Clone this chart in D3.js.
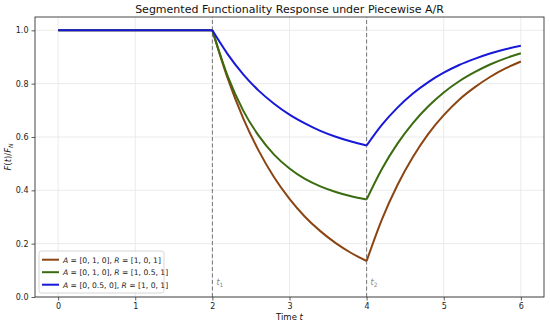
<!DOCTYPE html>
<html><head><meta charset="utf-8">
<script src="https://cdn.jsdelivr.net/npm/d3@7"></script>
<style>body{margin:0;background:#fff}svg{display:block;font-family:"DejaVu Sans",sans-serif}</style>
</head><body><svg id="c" width="550" height="324"></svg>
<script>
const times = [0, 0.5, 1, 1.5, 2, 2.2, 2.4, 2.6, 2.8, 3, 3.2, 3.4, 3.6, 3.8, 4, 4.2, 4.4, 4.6, 4.8, 5, 5.2, 5.4, 5.6, 5.8, 6];
const seriesNames = ["A = [0, 1, 0], R = [1, 0, 1]", "A = [0, 1, 0], R = [1, 0.5, 1]", "A = [0, 0.5, 0], R = [1, 0, 1]"];
const brownVals = [1, 1, 1, 1, 1, 0.819, 0.670, 0.549, 0.449, 0.368, 0.301, 0.247, 0.202, 0.165, 0.135, 0.292, 0.420, 0.525, 0.612, 0.682, 0.740, 0.786, 0.825, 0.857, 0.883];
const greenVals = [1, 1, 1, 1, 1, 0.827, 0.699, 0.605, 0.534, 0.482, 0.443, 0.415, 0.394, 0.378, 0.366, 0.481, 0.575, 0.652, 0.715, 0.767, 0.809, 0.843, 0.872, 0.895, 0.914];
const blueVals = [1, 1, 1, 1, 1, 0.910, 0.835, 0.774, 0.725, 0.684, 0.651, 0.623, 0.601, 0.583, 0.568, 0.646, 0.710, 0.763, 0.806, 0.841, 0.870, 0.893, 0.913, 0.929, 0.942];
const breakpoints = [2, 4];
const breakLabels = ["t", "t"];
const xTicks = [0, 1, 2, 3, 4, 5, 6];
const yTicks = [0, 0.2, 0.4, 0.6, 0.8, 1.0];
const colors = ["#8b4513", "#3b6b0f", "#1818d8"];

const svg = d3.select("#c");
const m = {l: 35, r: 6, t: 17, b: 27};
const W = 550, H = 324;
const x = d3.scaleLinear().domain([-0.3, 6.3]).range([m.l, W - m.r]);
const y = d3.scaleLinear().domain([0, 1.05]).range([H - m.b, m.t]);

// grid
const g = svg.append("g");
g.selectAll(".gx").data(xTicks).enter().append("line")
  .attr("x1", d => x(d)).attr("x2", d => x(d)).attr("y1", y(0)).attr("y2", y(1.05))
  .attr("stroke", "#e6e6e6").attr("stroke-width", 0.8);
g.selectAll(".gy").data(yTicks).enter().append("line")
  .attr("y1", d => y(d)).attr("y2", d => y(d)).attr("x1", x(-0.3)).attr("x2", x(6.3))
  .attr("stroke", "#e6e6e6").attr("stroke-width", 0.8);

// dashed breakpoints
breakpoints.forEach((b, i) => {
  svg.append("line").attr("x1", x(b)).attr("x2", x(b)).attr("y1", y(0)).attr("y2", y(1.05))
    .attr("stroke", "#777").attr("stroke-width", 1).attr("stroke-dasharray", "4,2.5");
  const t = svg.append("text").attr("x", x(b) + 4).attr("y", y(0) - 12)
    .attr("font-size", 8).attr("fill", "#888").attr("font-style", "italic").text(breakLabels[i]);
  t.append("tspan").attr("font-size", 6).attr("font-style", "normal").attr("dy", 2).text(i + 1);
});

// lines, drawn per segment
const allVals = [brownVals, greenVals, blueVals];
const line = d3.line().x(d => x(d[0])).y(d => y(d[1])).curve(d3.curveMonotoneX);
allVals.forEach((vals, si) => {
  const pts = times.map((t, i) => [t, vals[i]]);
  const segs = [pts.filter(p => p[0] <= 2), pts.filter(p => p[0] >= 2 && p[0] <= 4), pts.filter(p => p[0] >= 4)];
  segs.forEach(s => {
    svg.append("path").attr("d", line(s)).attr("fill", "none")
      .attr("stroke", colors[si]).attr("stroke-width", 2).attr("stroke-linejoin", "round");
  });
});

// axes
const xAxis = d3.axisBottom(x).tickValues(xTicks).tickFormat(d3.format("d")).tickSize(3.5).tickPadding(3);
const yAxis = d3.axisLeft(y).tickValues(yTicks).tickFormat(d3.format(".1f")).tickSize(3.5).tickPadding(3);
const gx = svg.append("g").attr("transform", `translate(0,${H - m.b})`).call(xAxis);
const gy = svg.append("g").attr("transform", `translate(${m.l},0)`).call(yAxis);
[gx, gy].forEach(a => {
  a.select(".domain").remove();
  a.selectAll("text").attr("font-size", 8).attr("fill", "#222").attr("font-family", "DejaVu Sans");
  a.selectAll("line").attr("stroke", "#333").attr("stroke-width", 0.8);
});
// frame
svg.append("rect").attr("x", m.l).attr("y", m.t).attr("width", W - m.l - m.r).attr("height", H - m.t - m.b)
  .attr("fill", "none").attr("stroke", "#333").attr("stroke-width", 0.9);

// title
svg.append("text").attr("x", (m.l + W - m.r) / 2).attr("y", 13).attr("text-anchor", "middle")
  .attr("font-size", 11).attr("fill", "#111").text("Segmented Functionality Response under Piecewise A/R");

// x label
const xl = svg.append("text").attr("x", (m.l + W - m.r) / 2).attr("y", 320).attr("text-anchor", "middle")
  .attr("font-size", 8.5).attr("fill", "#111");
xl.append("tspan").text("Time ");
xl.append("tspan").attr("font-style", "italic").text("t");

// y label
const yl = svg.append("text").attr("transform", `translate(11,${(m.t + H - m.b) / 2}) rotate(-90)`)
  .attr("text-anchor", "middle").attr("font-size", 8.5).attr("fill", "#111");
yl.append("tspan").attr("font-style", "italic").text("F");
yl.append("tspan").text("(");
yl.append("tspan").attr("font-style", "italic").text("t");
yl.append("tspan").text(")/");
yl.append("tspan").attr("font-style", "italic").text("F");
yl.append("tspan").attr("font-size", 6).attr("font-style", "italic").attr("dy", 2).text("N");

// legend
const lg = svg.append("g").attr("transform", "translate(39,251)");
lg.append("rect").attr("width", 125).attr("height", 42).attr("rx", 2.5)
  .attr("fill", "#fff").attr("fill-opacity", 0.8).attr("stroke", "#ccc").attr("stroke-width", 0.8);
seriesNames.forEach((name, i) => {
  const yy = 8.7 + i * 12.5;
  lg.append("line").attr("x1", 3).attr("x2", 20).attr("y1", yy).attr("y2", yy)
    .attr("stroke", colors[i]).attr("stroke-width", 2);
  const t = lg.append("text").attr("x", 24).attr("y", yy + 3).attr("font-size", 7.6).attr("fill", "#222");
  const parts = name.split(/([AR])/);
  parts.forEach(p => {
    if (p === "A" || p === "R") t.append("tspan").attr("font-style", "italic").text(p);
    else if (p) t.append("tspan").text(p);
  });
});
</script></body></html>
